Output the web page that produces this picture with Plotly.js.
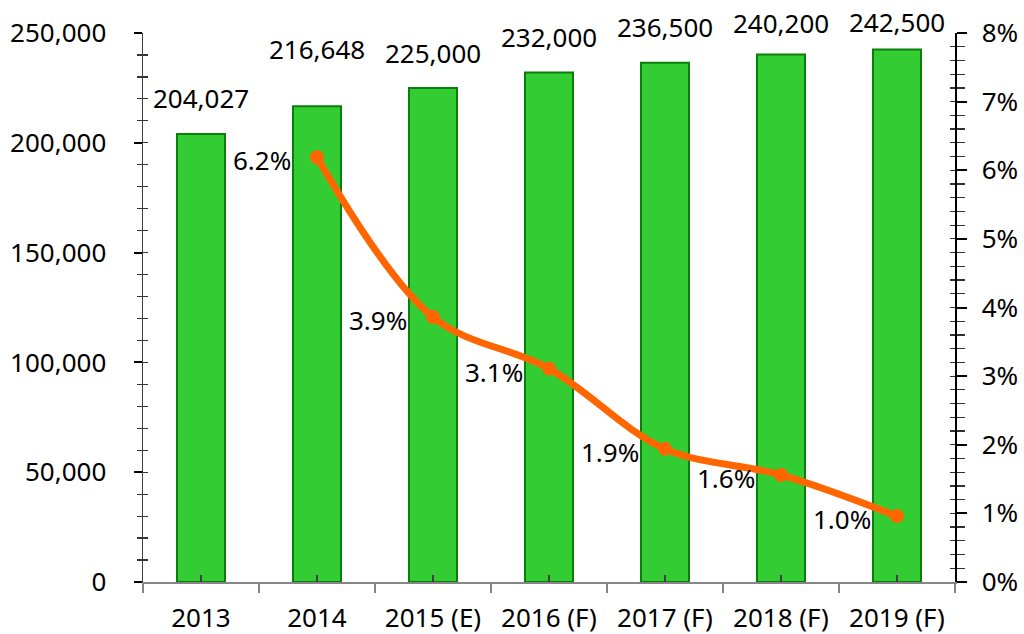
<!DOCTYPE html>
<html>
<head>
<meta charset="utf-8">
<script src="https://cdn.plot.ly/plotly-3.0.1.min.js"></script>
<style>html,body{margin:0;padding:0;background:#fff;}#chart{width:1024px;height:634px;}</style>
</head>
<body>
<div id="chart"></div>
<script>
// ---- data ----
const categories = ['2013', '2014', '2015 (E)', '2016 (F)', '2017 (F)', '2018 (F)', '2019 (F)'];
const volumes = [204027, 216648, 225000, 232000, 236500, 240200, 242500];
const volumeLabels = ['204,027', '216,648', '225,000', '232,000', '236,500', '240,200', '242,500'];
const growthCategories = ['2014', '2015 (E)', '2016 (F)', '2017 (F)', '2018 (F)', '2019 (F)'];
const growthPct = [6.19, 3.86, 3.11, 1.94, 1.56, 0.96];
const growthLabels = ['6.2%', '3.9%', '3.1%', '1.9%', '1.6%', '1.0%'];

// ---- style ----
const FONT = 'Noto Sans, Open Sans, DejaVu Sans, sans-serif';
const FS = 26;
const barLabelLift = [16, 37, 15, 16, 16, 12, 7];

const traces = [
  {
    type: 'bar', x: categories, y: volumes, xaxis: 'x', yaxis: 'y',
    marker: {color: '#33CC33', line: {color: '#0A7F0A', width: 2}},
    hoverinfo: 'x+y'
  },
  {
    type: 'scatter', mode: 'lines+markers', x: growthCategories, y: growthPct,
    xaxis: 'x', yaxis: 'y2',
    line: {color: '#FF6600', width: 7, shape: 'spline', smoothing: 1},
    marker: {color: '#FF6600', size: 14},
    cliponaxis: false
  },
  // helper traces so the overlay tick axes are drawn
  {type: 'scatter', mode: 'markers', x: categories, y: volumes, xaxis: 'x2', yaxis: 'y3', marker: {opacity: 0}, hoverinfo: 'skip', showlegend: false},
  {type: 'scatter', mode: 'markers', x: categories, y: volumes.map(() => 0), xaxis: 'x2', yaxis: 'y4', marker: {opacity: 0}, hoverinfo: 'skip', showlegend: false}
];

const annotations = [];
categories.forEach((c, i) => {
  annotations.push({
    x: categories.indexOf(c), y: volumes[i], xref: 'x', yref: 'y', text: volumeLabels[i],
    showarrow: false, xanchor: 'center', yanchor: 'bottom', yshift: barLabelLift[i],
    font: {family: FONT, size: FS, color: '#000'}
  });
});
growthCategories.forEach((c, i) => {
  annotations.push({
    x: categories.indexOf(c), y: growthPct[i], xref: 'x', yref: 'y2', text: growthLabels[i],
    showarrow: false, xanchor: 'right', yanchor: 'middle', xshift: -24, yshift: -3,
    font: {family: FONT, size: FS, color: '#000'}
  });
});

const layout = {
  width: 1024, height: 634,
  margin: {l: 143, r: 69, t: 33, b: 52},
  paper_bgcolor: '#fff', plot_bgcolor: '#fff',
  showlegend: false,
  bargap: 0.586,
  font: {family: FONT, size: FS, color: '#000'},
  xaxis: {
    type: 'category', categoryorder: 'array', categoryarray: categories,
    range: [-0.5, 6.5],
    showline: true, linecolor: '#868686', linewidth: 1.5,
    ticks: 'outside', tickson: 'boundaries', ticklen: 9, tickcolor: '#868686', tickwidth: 1.5,
    showgrid: false, zeroline: false,
    ticklabelstandoff: 12,
    tickfont: {family: FONT, size: FS, color: '#000'}
  },
  xaxis2: {
    type: 'category', categoryorder: 'array', categoryarray: categories,
    range: [-0.5, 6.5], overlaying: 'x', anchor: 'y',
    showline: false, showgrid: false, zeroline: false,
    ticks: 'inside', ticklen: 7, tickcolor: '#404040', tickwidth: 1.5,
    showticklabels: false
  },
  yaxis: {
    range: [0, 250000], dtick: 50000, tickformat: ',',
    showline: true, linecolor: '#404040', linewidth: 1.5,
    ticks: 'outside', ticklen: 8, tickcolor: '#000', tickwidth: 2,
    minor: {dtick: 10000, ticks: 'outside', ticklen: 5, tickcolor: '#333', tickwidth: 1.2},
    showgrid: false, zeroline: false,
    ticklabelstandoff: 22,
    tickfont: {family: FONT, size: FS, color: '#000'}
  },
  yaxis2: {
    range: [0, 8], dtick: 1, ticksuffix: '%', side: 'right', overlaying: 'y', anchor: 'x',
    showline: true, linecolor: '#000', linewidth: 1.5,
    ticks: 'outside', ticklen: 10, tickcolor: '#000', tickwidth: 2,
    minor: {dtick: 0.2, ticks: 'outside', ticklen: 8, tickcolor: '#333', tickwidth: 1.2},
    showgrid: false, zeroline: false,
    ticklabelstandoff: 10,
    tickfont: {family: FONT, size: FS, color: '#000'}
  },
  yaxis3: {
    range: [0, 250000], dtick: 10000, overlaying: 'y', anchor: 'x2', side: 'left',
    showline: false, showgrid: false, zeroline: false,
    ticks: 'inside', ticklen: 5, tickcolor: '#333', tickwidth: 1.2, showticklabels: false
  },
  yaxis4: {
    range: [0, 8], dtick: 0.2, overlaying: 'y', anchor: 'x2', side: 'right',
    showline: false, showgrid: false, zeroline: false,
    ticks: 'inside', ticklen: 5, tickcolor: '#333', tickwidth: 1.2, showticklabels: false
  },
  annotations: annotations
};

Plotly.newPlot('chart', traces, layout, {displayModeBar: false, staticPlot: true});
</script>
</body>
</html>
